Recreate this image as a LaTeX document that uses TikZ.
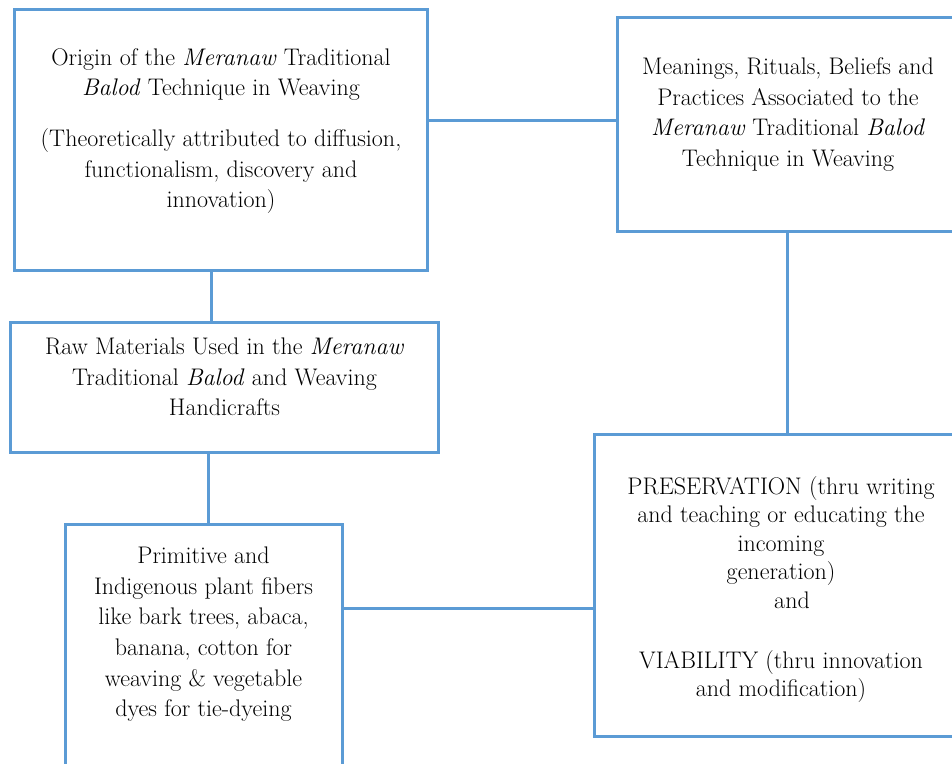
\documentclass[tikz,border=0pt]{standalone}
\usepackage{fontspec}
\definecolor{boxblue}{RGB}{91,155,213}

\begin{document}
\begin{tikzpicture}[x=1pt,y=-1pt,
        box/.style={draw=boxblue,line width=3pt},
        link/.style={draw=boxblue,line width=3pt},
        txt/.style={align=center,inner sep=0pt,anchor=north,font=\fontsize{24}{30.7}\selectfont}]
        \useasboundingbox (0,0) rectangle (952,763);

        \node[box,minimum width=413,minimum height=261] (origin) at (220.5,139.5) {};
        \node[box,minimum width=340,minimum height=214] (meanings) at (787,124) {};
        \node[box,minimum width=428,minimum height=130] (raw) at (224,387) {};
        \node[box,minimum width=277,minimum height=276] (prim) at (203.5,662) {};
        \node[box,minimum width=374,minimum height=302] (pres) at (781,585) {};

        \draw[link] (origin.east |- 0,120) -- (meanings.west |- 0,120);
        \draw[link] (origin.south -| 211,0) -- (raw.north -| 211,0);
        \draw[link] (raw.south -| 208,0) -- (prim.north -| 208,0);
        \draw[link] (meanings.south) -- (meanings.south |- pres.north);
        \draw[link] (prim.east |- 0,608) -- (pres.west |- 0,608);

        \node[txt] (origintxt) at (221,48) {Origin of the \textit{Meranaw} Traditional\\
            \textit{Balod} Technique in Weaving\\[20pt]
            (Theoretically attributed to diffusion,\\
            functionalism, discovery and\\
            innovation)};
        \node[txt] (meaningstxt) at (788,57.5) {Meanings, Rituals, Beliefs and\\
            Practices Associated to the\\
            \textit{Meranaw} Traditional \textit{Balod}\\
            Technique in Weaving};
        \node[txt] (rawtxt) at (224.5,337.5) {Raw Materials Used in the \textit{Meranaw}\\
            Traditional \textit{Balod} and Weaving\\
            Handicrafts};
        \node[txt] (primtxt) at (203.5,546.5) {Primitive and\\
            Indigenous plant fibers\\
            like bark trees, abaca,\\
            banana, cotton for\\
            weaving \& vegetable\\
            dyes for tie-dyeing};
        \node[txt,font=\fontsize{24}{28.5}\selectfont] (prestxt) at (781,476) {PRESERVATION (thru writing\\
            and teaching or educating the\\
            incoming\\
            generation)\\
            \hspace*{22pt}and\\[31.5pt]
            VIABILITY (thru innovation\\
            and modification)};
    \end{tikzpicture}
\end{document}
